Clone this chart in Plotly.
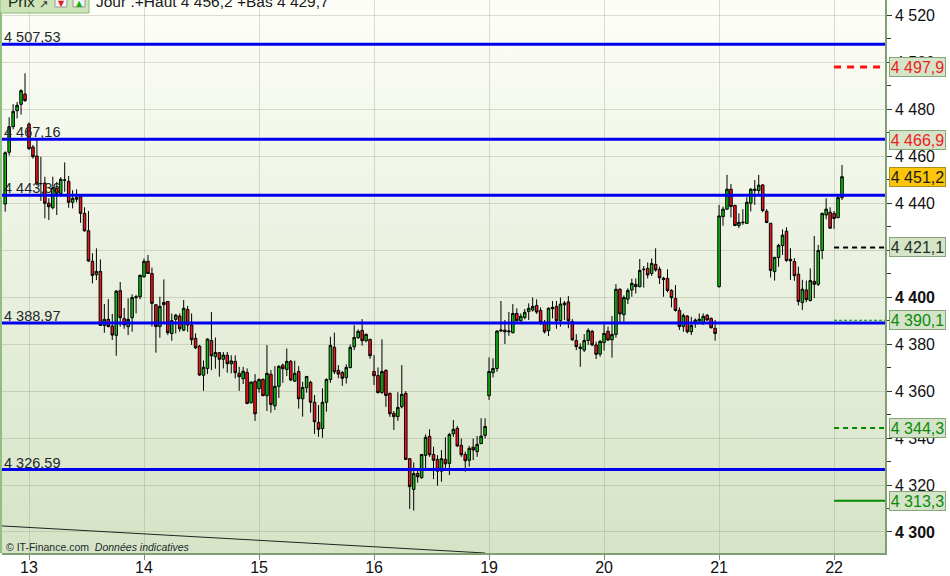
import base64
import plotly.graph_objects as go

day_labels = ["13", "14", "15", "16", "19", "20", "21", "22"]
day_positions = [6, 35, 64, 93, 122, 151, 180, 209]

opens = [4439.6,4461.6,4472.5,4479.3,4482,4486.4,4473.6,4463.8,4460,4448.2,
4448.5,4439.9,4438,4446.2,4444.1,4449.7,4449.2,4440.3,4441.6,4442.7,
4435.6,4428.2,4415.2,4409.5,4410.9,4387.9,4390.5,4387.6,4383.7,4402.7,
4390.8,4387.4,4391.2,4399.7,4400.1,4408.6,4415.2,4410,4396.7,4387.4,
4396.7,4398.1,4384.5,4390.5,4391.9,4385.9,4394.7,4388.1,4382.4,4379.1,
4366.7,4369.6,4381.5,4374.6,4376.3,4373.5,4375.2,4371.6,4372.6,4367.5,
4365.2,4367.9,4355,4364.1,4361,4364.9,4358,4367.1,4353.7,4362,
4371,4369.2,4372.6,4364.2,4368.3,4356.7,4361.4,4363.7,4355.2,4346.6,
4344,4355.2,4364.9,4378.6,4368.8,4367.9,4365.7,4370,4378.8,4382.7,
4385.8,4381.4,4382,4368.3,4366.6,4359.4,4368.8,4359,4350.5,4349.1,
4353.3,4359,4331.2,4318.1,4324.9,4323.1,4332.6,4340.7,4333,4330.9,
4325.9,4330.9,4329.2,4341.8,4344.1,4336.9,4333,4330.5,4336.1,4334.2,
4337.6,4341.1,4358,4367.8,4369.6,4385.5,4385.9,4385.2,4384.8,4393,
4389.9,4391.3,4393.8,4394.5,4396.4,4394.3,4389.2,4385.7,4395,4396,
4389.9,4396.7,4397.9,4389.6,4381.5,4378.7,4377.4,4381.5,4385.4,4379.6,
4375.7,4380.6,4385.4,4381.8,4384.1,4403.3,4392.5,4399.1,4403,4405.4,
4404.4,4411.6,4412.2,4410,4413.9,4411.8,4408,4407.9,4402.8,4399.4,
4394.3,4387.4,4391.9,4385.2,4388.8,4389.9,4389.1,4392.2,4390.9,4386.7,
4404.4,4434.2,4437.4,4445.9,4439,4430.4,4431.6,4431.3,4439.9,4445.3,
4445.3,4447.7,4436.5,4431.4,4410.8,4416.8,4421.9,4428,4416.1,4415.1,
4409.7,4397.6,4403,4398.5,4406.7,4405.4,4419.8,4434.9,4436.1,4435.6,
4433.8,4442.3]

highs = [4462,4476.5,4482.1,4483,4488.4,4495.2,4474.3,4464.7,4467,4459.7,
4451.2,4442,4451.2,4449,4451,4457.3,4451.5,4445.5,4445.8,4443,
4438.2,4436.6,4418.6,4420.7,4416,4397,4399.1,4392.8,4403,4406.4,
4395.3,4399.4,4401.1,4400.9,4409.6,4416.4,4417.9,4412.5,4397,4400.1,
4407.5,4398.2,4393,4392.8,4393,4398.7,4396.2,4393,4384.5,4379.6,
4373,4382.4,4393.6,4382.8,4376.6,4376.6,4376.6,4375.2,4375.2,4370.3,
4370.3,4369.6,4364,4367.2,4365.4,4365.4,4379.5,4368.9,4370.6,4371,
4371.7,4378.1,4373.2,4372.9,4370.6,4363.9,4366.4,4364.4,4358.3,4354,
4361.1,4365.4,4383.1,4384.9,4371,4368.5,4371.3,4379.8,4388,4386.2,
4390.6,4384.5,4382.2,4375.3,4370,4382,4369.2,4359.3,4351.5,4359.5,
4371,4360,4331.3,4329.6,4326.4,4333,4341.5,4343.7,4336.3,4332.7,
4334.9,4340.3,4342.2,4347.6,4345.1,4339.8,4334.2,4336.7,4339.8,4340.8,
4348.4,4348.4,4374.3,4373.9,4385.9,4398.3,4390.2,4393.6,4397,4395.2,
4393,4394.9,4397.3,4399.8,4399,4395.6,4390.2,4395.6,4398.3,4398.3,
4399.8,4398.3,4400.4,4390.6,4384.2,4380.3,4384.2,4386.7,4386,4381,
4381.7,4388.4,4387.4,4391.9,4405.5,4403.7,4400.7,4403.7,4407.8,4407.9,
4416.2,4413.2,4414.7,4416.4,4420.7,4412.9,4408.6,4411.8,4403.3,4405.1,
4395.6,4393,4392.3,4391.6,4390.9,4393,4393,4392.8,4391.3,4390.2,
4439.2,4438.5,4452,4448.1,4439.2,4435.6,4437.4,4442.5,4446.3,4449.8,
4452,4448.1,4437.4,4431.5,4417,4422.6,4428.8,4429.7,4420.8,4416.5,
4412.9,4407.3,4407,4412.2,4426,4422.2,4435.9,4442,4438.2,4436.6,
4443.7,4456.2]

lows = [4436.3,4460.2,4471.4,4476,4477.6,4483,4462.6,4458.9,4447.5,4440.9,
4433.5,4432.8,4437.3,4434.9,4442.7,4444.8,4438,4437.7,4440.3,4431.6,
4427.8,4415,4405.8,4407.2,4387.8,4384.8,4387.1,4381.7,4375,4387.4,
4386.5,4383.8,4385.2,4393,4399,4408.2,4409.8,4387.4,4376.3,4382.7,
4388.8,4383.8,4381.4,4384.5,4385.2,4385.5,4385.2,4379.6,4377.9,4366.5,
4360.1,4367.2,4368.9,4369.5,4366.1,4369.6,4367.8,4367.5,4365.4,4360.1,
4363,4354.4,4354.7,4347.3,4359.3,4357.8,4351.5,4350.8,4351.9,4357.1,
4363.5,4366.4,4364.2,4363.9,4352.5,4349.1,4359.3,4350.8,4341.7,4340.5,
4340.1,4351.2,4363.5,4367.2,4365.4,4362.2,4363.2,4369.6,4377.4,4382.2,
4379.3,4380.7,4373.7,4362.5,4359,4358.7,4353.3,4349,4343.4,4347.3,
4352.6,4330.6,4309.8,4309.1,4321,4322.7,4327,4332,4322.5,4319.7,
4321.4,4326.4,4324.2,4340.5,4336.3,4332,4325.7,4327.8,4330.6,4332,
4337.4,4339.8,4356.2,4365.8,4368.2,4385.2,4380,4383.5,4384.5,4389.5,
4389.5,4390.5,4390.2,4393.8,4392.8,4388.1,4384.5,4383.4,4390.9,4386.5,
4387.4,4390.2,4386.7,4381.3,4377.4,4370.3,4376.6,4379.6,4379.1,4373.6,
4374.6,4377.2,4381.3,4374.2,4382.7,4388.8,4389.5,4397,4400.1,4401.5,
4404.1,4404,4407.9,4409,4410.8,4405.5,4400.1,4402,4395.6,4393.8,
4386,4385.2,4384.5,4383.8,4386.9,4388.8,4388.1,4389.9,4386.7,4381.4,
4404,4430.3,4437.1,4433.9,4430.3,4429.3,4430.7,4431.1,4436.4,4439.2,
4443.5,4436.1,4431.4,4408.3,4407,4412.9,4417.9,4415,4407.3,4406.9,
4396.4,4394.5,4397.8,4398.1,4399.5,4404.7,4416.1,4433.1,4429,4429,
4433.5,4441.3]

closes = [4461.4,4472.5,4479,4481.6,4487.8,4483.6,4463.1,4459.7,4448.1,4448.3,
4439.9,4438.4,4446.5,4444.1,4450.1,4449.8,4440.3,4442,4442.4,4435.6,
4428.2,4415.3,4409.2,4410.9,4387.9,4390.5,4387.4,4383.8,4402.5,4391.2,
4388.1,4390.5,4399.8,4400.1,4409.2,4415.2,4410,4397.3,4387.4,4396,
4397.7,4384.8,4389.9,4392.3,4386.5,4395.2,4388.1,4381.8,4378.4,4366.8,
4370.1,4382.1,4375,4376.4,4373.5,4375.3,4371.6,4372.8,4367.8,4366.1,
4368.4,4354.7,4363.8,4350.3,4364.9,4358,4367.5,4354.3,4362,4370.5,
4369.5,4372.6,4364.7,4367.5,4356.7,4361.5,4366.2,4355.2,4346.9,4343.7,
4355.2,4364.9,4379.4,4368.2,4367.2,4365.4,4370,4378.6,4382.8,4385.4,
4381.4,4384.1,4375,4366.5,4359.3,4368.3,4358.1,4350.3,4349.1,4353,
4358.6,4330.9,4319.3,4324.9,4323.5,4333,4340.3,4332.9,4330.5,4325.9,
4331.2,4329,4341.5,4343.7,4336.6,4332.9,4330.3,4335.6,4334.9,4337.3,
4340.8,4344.9,4368.3,4369.6,4385.5,4385.9,4385.2,4385.5,4393,4389.9,
4391.8,4393.5,4395.2,4396,4393.6,4389.2,4385.2,4395.2,4395.6,4389.9,
4397,4397.4,4389.9,4381.8,4378.9,4378.1,4381.5,4385.8,4379.6,4375.6,
4381.1,4384.5,4381.7,4384.1,4403.3,4392.8,4399.8,4402.8,4405.8,4404.4,
4411.3,4411.8,4409.4,4414.3,4411.5,4408.2,4407.4,4402.8,4399.7,4394.3,
4387.4,4392.2,4385.2,4387.9,4390.2,4390.5,4391.8,4390.2,4386.9,4384.5,
4434.5,4437.4,4445.9,4438.5,4430.4,4431.8,4431.8,4440.3,4445.9,4445.9,
4447.6,4436.8,4431.7,4411.3,4416.9,4422,4426.3,4415.5,4415.4,4409.1,
4398.1,4403.3,4398.9,4407,4405.4,4419.8,4435.6,4437.4,4429.3,4433.4,
4442.3,4451.2]

level_values = [4507.53, 4467.16, 4443.36, 4388.97, 4326.59]
level_labels = ["4 507,53", "4 467,16", "4 443,36", "4 388,97", "4 326,59"]

right_values = [4497.9, 4421.1, 4390.1, 4344.3, 4313.3]
right_colors = ["#ff1010", "#000000", "#008a00", "#008a00", "#008a00"]
right_widths = [3, 2, 1, 2, 2]
right_dashes = ["7px,6px", "5px,4px", "3px,2px", "5px,4px", "solid"]

tag_values = [4497.9, 4466.9, 4451.2, 4421.1, 4390.1, 4344.3, 4313.3]
tag_labels = ["4 497,9", "4 466,9", "4 451,2", "4 421,1", "4 390,1", "4 344,3", "4 313,3"]
tag_colors = ["#f02020", "#f02020", "#1a1a1a", "#1f3020", "#0a8a0a", "#0a8a0a", "#0a8a0a"]

trend_x = [-1, 121]
trend_y = [4302.6, 4291.06]

y_ticks = [4300, 4320, 4340, 4360, 4380, 4400, 4420, 4440, 4460, 4480, 4500, 4520]
y_minor = [4310, 4330, 4350, 4370, 4390, 4410, 4430, 4450, 4470, 4490, 4510]
y_text = ["<b>4 300</b>", "4 320", "4 340", "4 360", "4 380", "<b>4 400</b>", "", "4 440", "4 460", "4 480", "4 500", "4 520"]

X_MIN, X_MAX = -0.807, 221.84
Y_MIN, Y_MAX = 4291.06, 4526.4
PLOT_W, PLOT_H = 883, 553
FONT = "Liberation Sans, Arial, sans-serif"


def px(x):
    return (x - 2) / PLOT_W


def py(y):
    return 1 - y / PLOT_H


svg = ('<svg xmlns="http://www.w3.org/2000/svg" width="100" height="100" preserveAspectRatio="none">'
       '<defs><linearGradient id="g" x1="0" y1="0" x2="0" y2="1">'
       '<stop offset="0" stop-color="#fdfef8"/><stop offset="1" stop-color="#d6e3c6"/>'
       '</linearGradient></defs><rect width="100" height="100" fill="url(#g)"/></svg>')
bg_uri = "data:image/svg+xml;base64," + base64.b64encode(svg.encode()).decode()

fig = go.Figure()

fig.add_trace(go.Scatter(x=trend_x, y=trend_y, mode="lines", line=dict(color="#222222", width=1),
                         hoverinfo="skip", showlegend=False))

fig.add_trace(go.Candlestick(
    x=list(range(len(opens))), open=opens, high=highs, low=lows, close=closes,
    increasing=dict(line=dict(color="#000000", width=1), fillcolor="#10c010"),
    decreasing=dict(line=dict(color="#000000", width=1), fillcolor="#f5141c"),
    whiskerwidth=0, showlegend=False))

for value in level_values:
    fig.add_trace(go.Scatter(x=[X_MIN, X_MAX], y=[value, value], mode="lines",
                             line=dict(color="#0000ee", width=3), hoverinfo="skip", showlegend=False))

for value, color, width, dash in zip(right_values, right_colors, right_widths, right_dashes):
    fig.add_trace(go.Scatter(x=[day_positions[-1], X_MAX], y=[value, value], mode="lines",
                             line=dict(color=color, width=width, dash=dash),
                             hoverinfo="skip", showlegend=False))

annotations = []
for value, label in zip(level_values, level_labels):
    annotations.append(dict(x=px(2), xref="paper", y=value, yref="y", text=label, showarrow=False,
                            xanchor="left", yanchor="bottom", yshift=-3,
                            font=dict(family=FONT, size=14.5, color="#22282a")))

for value, label, color in zip(tag_values, tag_labels, tag_colors):
    is_last = label == "4 451,2"
    annotations.append(dict(x=px(889), xref="paper", y=value, yref="y", text=label, showarrow=False,
                            xanchor="left", yanchor="middle", width=55, height=18, align="center",
                            bgcolor="#fbc60a" if is_last else "#d5e4c8",
                            bordercolor="#a89020" if is_last else "#86a67a", borderwidth=1, borderpad=0,
                            font=dict(family=FONT, size=16, color=color)))

annotations.append(dict(x=px(4), xref="paper", y=py(547), yref="paper",
                        text="© IT-Finance.com  <i>Données indicatives</i>", showarrow=False,
                        xanchor="left", yanchor="middle",
                        font=dict(family=FONT, size=10.5, color="#1a2a30")))
annotations.append(dict(x=px(94), xref="paper", y=py(2), yref="paper",
                        text="Jour .+Haut 4 456,2 +Bas 4 429,7", showarrow=False,
                        xanchor="left", yanchor="middle",
                        font=dict(family=FONT, size=15.5, color="#1a1a1a")))
annotations.append(dict(x=px(6), xref="paper", y=py(2), yref="paper", text="Prix", showarrow=False,
                        xanchor="left", yanchor="middle",
                        font=dict(family=FONT, size=15.5, color="#1a2a20")))
annotations.append(dict(x=px(43), xref="paper", y=py(4), yref="paper", text="↗", showarrow=False,
                        xanchor="center", yanchor="middle",
                        font=dict(family="DejaVu Sans", size=11, color="#333333")))
annotations.append(dict(x=px(61), xref="paper", y=py(3), yref="paper", text="▼", showarrow=False,
                        xanchor="center", yanchor="middle",
                        font=dict(family="DejaVu Sans", size=8, color="#e02020")))
annotations.append(dict(x=px(79), xref="paper", y=py(3), yref="paper", text="▲", showarrow=False,
                        xanchor="center", yanchor="middle",
                        font=dict(family="DejaVu Sans", size=8, color="#10b010")))

shapes = [
    dict(type="rect", xref="paper", yref="paper", x0=px(0), x1=px(2), y0=0, y1=1,
         line=dict(width=0), fillcolor="#8fc080", layer="above"),
    dict(type="rect", xref="paper", yref="paper", x0=px(0), x1=px(89), y0=py(13), y1=py(-2),
         line=dict(color="#8ab878", width=1), fillcolor="#cde4b8", layer="above"),
    dict(type="rect", xref="paper", yref="paper", x0=px(55), x1=px(67), y0=py(7), y1=py(-2),
         line=dict(color="#999999", width=1), fillcolor="#f2f2f2", layer="above"),
    dict(type="rect", xref="paper", yref="paper", x0=px(73), x1=px(85), y0=py(7), y1=py(-2),
         line=dict(color="#999999", width=1), fillcolor="#f2f2f2", layer="above"),
]

fig.update_layout(
    width=950, height=576, autosize=False,
    margin=dict(l=2, r=65, t=0, b=23, pad=0),
    paper_bgcolor="#ffffff", plot_bgcolor="#f0f4e6",
    showlegend=False, hovermode=False, boxgap=0.08,
    font=dict(family=FONT, size=16, color="#111111"),
    xaxis=dict(range=[X_MIN, X_MAX], rangeslider=dict(visible=False), automargin=False,
               tickmode="array", tickvals=day_positions, ticktext=day_labels,
               ticks="outside", ticklen=5, tickcolor="#6f8f66", ticklabelstandoff=-6, showline=True,
               linecolor="#7fa070", linewidth=1.5, showgrid=True, gridcolor="rgba(130,140,110,0.28)",
               gridwidth=1, zeroline=False, tickfont=dict(family=FONT, size=16, color="#111111")),
    yaxis=dict(range=[Y_MIN, Y_MAX], side="right", tickmode="array", tickvals=y_ticks, ticktext=y_text,
               automargin=False,
               ticks="outside", ticklen=5, tickcolor="#333333", showline=True,
               linecolor="#7fa070", linewidth=1.5, showgrid=True, gridcolor="rgba(130,140,110,0.28)",
               gridwidth=1, zeroline=False, tickfont=dict(family=FONT, size=16, color="#111111"),
               minor=dict(tickmode="array", tickvals=y_minor, ticks="outside", ticklen=4,
                          tickcolor="#333333", showgrid=False)),
    images=[dict(source=bg_uri, xref="paper", yref="paper", x=0, y=1, sizex=1, sizey=1,
                 sizing="stretch", xanchor="left", yanchor="top", layer="below")],
    annotations=annotations, shapes=shapes,
)

fig.write_html("out.html", config={"displayModeBar": False},
               post_script="document.body.style.margin='0';document.documentElement.style.overflow='hidden';")
